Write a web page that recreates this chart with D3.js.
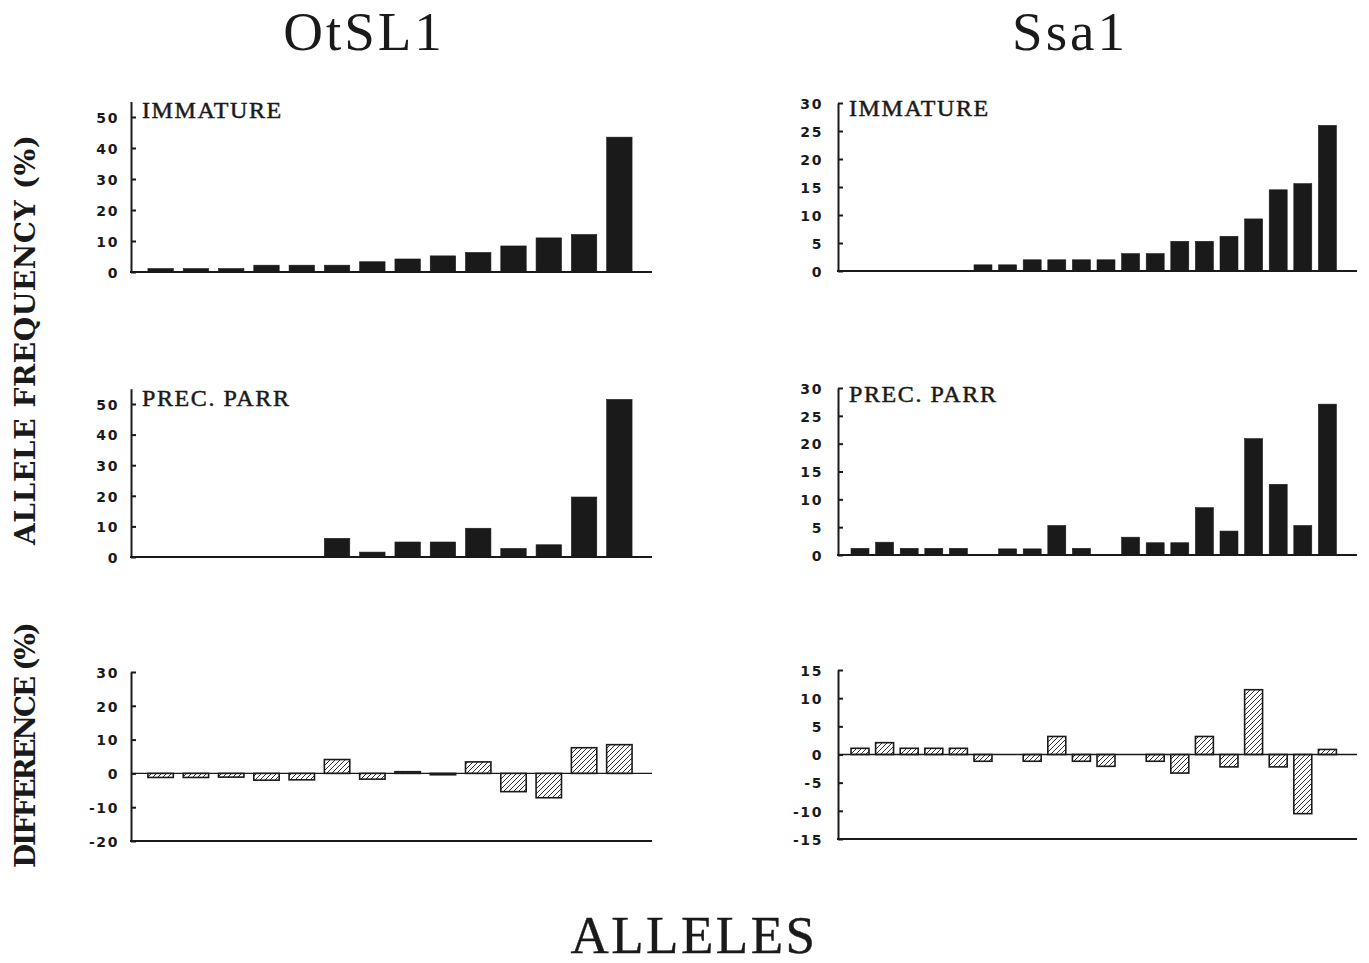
<!DOCTYPE html>
<html lang="en">
<head>
<meta charset="utf-8">
<title>Allele frequencies</title>
<script src="https://cdn.jsdelivr.net/npm/d3@7"></script>
<style>
  body { margin: 0; background: #fff; }
  .serif { font-family: "Liberation Serif", "Times New Roman", serif; fill: #1a1a1a; }
</style>
</head>
<body>
<div id="chart"></div>
<script>
// alleles (x categories) of each locus
var otAlleles = [1, 2, 3, 4, 5, 6, 7, 8, 9, 10, 11, 12, 13, 14];
var ssaAlleles = [1, 2, 3, 4, 5, 6, 7, 8, 9, 10, 11, 12, 13, 14, 15, 16, 17, 18, 19, 20];

// OtSL1 frequencies (%)
var otImmature = [1.1, 1.1, 1.1, 2.2, 2.2, 2.2, 3.3, 4.2, 5.2, 6.3, 8.4, 11, 12.1, 43.5];
var otPrecParr = [0, 0, 0, 0, 0, 6.1, 1.6, 4.9, 4.9, 9.4, 2.8, 4, 19.6, 51.5];
var otDiff = [-1.2, -1.2, -1.1, -2, -1.9, 4.1, -1.7, 0.5, -0.4, 3.4, -5.4, -7.2, 7.6, 8.5];

// Ssa1 frequencies (%)
var ssaImmature = [0, 0, 0, 0, 0, 1.1, 1.1, 2, 2, 2, 2, 3.1, 3.1, 5.3, 5.3, 6.2, 9.3, 14.5, 15.6, 26];
var ssaPrecParr = [1.2, 2.3, 1.2, 1.2, 1.2, 0, 1.1, 1.1, 5.3, 1.2, 0, 3.2, 2.2, 2.2, 8.5, 4.3, 20.9, 12.7, 5.3, 27.1];
var ssaDiff = [1.1, 2.1, 1.1, 1.1, 1.1, -1.2, 0, -1.2, 3.2, -1.2, -2.1, 0, -1.2, -3.3, 3.2, -2.2, 11.5, -2.2, -10.5, 0.9];

// tick labels
var otFreqTicks = [0, 10, 20, 30, 40, 50];
var otDiffTicks = [-20, -10, 0, 10, 20, 30];
var ssaFreqTicks = [0, 5, 10, 15, 20, 25, 30];
var ssaDiffTicks = [-15, -10, -5, 0, 5, 10, 15];

var ink = "#1a1a1a";

var svg = d3.select("#chart").append("svg")
    .attr("width", 1369)
    .attr("height", 963);

// hatch fill for the difference bars
svg.append("defs").append("pattern")
    .attr("id", "hatch")
    .attr("patternUnits", "userSpaceOnUse")
    .attr("width", 5)
    .attr("height", 5)
    .append("path")
    .attr("d", "M-1,1 l2,-2 M0,5 l5,-5 M4,6 l2,-2")
    .attr("stroke", ink)
    .attr("stroke-width", 0.9);

var xOt = d3.scaleBand().domain(otAlleles).range([143, 637]).paddingInner(0.28).paddingOuter(0.14);
var xSsa = d3.scaleBand().domain(ssaAlleles).range([847.7, 1339.7]).paddingInner(0.27).paddingOuter(0.135);

function panel(o) {
    var g = svg.append("g");
    var y = d3.scaleLinear().domain(o.domain).range(o.range);
    var x0 = o.axisX, x1 = o.rightX;

    // bars (zero values draw nothing)
    o.values.forEach(function (v, i) {
        if (v === 0) return;
        g.append("rect")
            .attr("x", o.x(o.cats[i]))
            .attr("width", o.x.bandwidth())
            .attr("y", y(Math.max(v, 0)))
            .attr("height", Math.abs(y(v) - y(0)))
            .attr("fill", o.hatch ? "url(#hatch)" : ink)
            .attr("stroke", ink)
            .attr("stroke-width", o.hatch ? 1.6 : 0.6);
    });

    // axis, ticks point inward
    var ax = g.append("g")
        .attr("transform", "translate(" + x0 + ",0)")
        .call(d3.axisLeft(y).tickValues(o.ticks).tickSize(-5).tickSizeOuter(0)
            .tickPadding(o.pad).tickFormat(function (d) { return String(d); }));
    ax.select(".domain").attr("stroke", ink).attr("stroke-width", 2);
    ax.selectAll(".tick line").attr("stroke", ink).attr("stroke-width", 2);
    ax.selectAll(".tick text")
        .attr("dy", "0.38em")
        .style("font-family", "DejaVu Sans, sans-serif")
        .style("font-weight", "bold")
        .style("font-size", "14px")
        .style("letter-spacing", "1.6px")
        .style("fill", ink);

    // baseline
    if (o.hatch) {
        g.append("line").attr("x1", x0).attr("x2", x1)
            .attr("y1", y(0)).attr("y2", y(0))
            .attr("stroke", ink).attr("stroke-width", 1.4);
        g.append("line").attr("x1", x0 - 1).attr("x2", x1)
            .attr("y1", y(o.domain[0])).attr("y2", y(o.domain[0]))
            .attr("stroke", ink).attr("stroke-width", 2);
    } else {
        g.append("line").attr("x1", x0 - 1).attr("x2", x1)
            .attr("y1", y(0)).attr("y2", y(0))
            .attr("stroke", ink).attr("stroke-width", 2);
    }

    if (o.label) {
        g.append("text").attr("class", "serif")
            .attr("x", x0 + 11).attr("y", o.labelY)
            .attr("font-size", 24)
            .attr("letter-spacing", 1.6)
            .attr("stroke", ink).attr("stroke-width", 0.5)
            .text(o.label);
    }
}

// OtSL1 column
panel({x: xOt, cats: otAlleles, values: otImmature, domain: [0, 55], range: [272, 101.5],
    ticks: otFreqTicks, axisX: 131, rightX: 652, pad: 12, label: "IMMATURE", labelY: 118});
panel({x: xOt, cats: otAlleles, values: otPrecParr, domain: [0, 55], range: [557, 388.7],
    ticks: otFreqTicks, axisX: 131, rightX: 652, pad: 12, label: "PREC. PARR", labelY: 406});
panel({x: xOt, cats: otAlleles, values: otDiff, domain: [-20, 30], range: [841, 672],
    ticks: otDiffTicks, axisX: 131, rightX: 652, pad: 12, hatch: true});

// Ssa1 column
panel({x: xSsa, cats: ssaAlleles, values: ssaImmature, domain: [0, 30], range: [271, 103],
    ticks: ssaFreqTicks, axisX: 838, rightX: 1357, pad: 15, label: "IMMATURE", labelY: 116});
panel({x: xSsa, cats: ssaAlleles, values: ssaPrecParr, domain: [0, 30], range: [555, 388],
    ticks: ssaFreqTicks, axisX: 838, rightX: 1357, pad: 15, label: "PREC. PARR", labelY: 402});
panel({x: xSsa, cats: ssaAlleles, values: ssaDiff, domain: [-15, 15], range: [839, 670],
    ticks: ssaDiffTicks, axisX: 838, rightX: 1357, pad: 15, hatch: true});

// titles
svg.append("text").attr("class", "serif")
    .attr("x", 364).attr("y", 50).attr("text-anchor", "middle")
    .attr("font-size", 55).attr("letter-spacing", 3)
    .text("OtSL1");
svg.append("text").attr("class", "serif")
    .attr("x", 1070).attr("y", 50).attr("text-anchor", "middle")
    .attr("font-size", 55).attr("letter-spacing", 3)
    .text("Ssa1");
svg.append("text").attr("class", "serif")
    .attr("x", 694).attr("y", 953).attr("text-anchor", "middle")
    .attr("font-size", 53).attr("letter-spacing", 2.5)
    .attr("stroke", ink).attr("stroke-width", 0.4)
    .text("ALLELES");

// y labels
svg.append("text")
    .attr("transform", "translate(35,340) rotate(-90)")
    .attr("text-anchor", "middle")
    .attr("font-family", "DejaVu Serif, serif")
    .attr("font-weight", "bold")
    .attr("font-size", 28)
    .attr("fill", ink)
    .attr("textLength", 410)
    .attr("lengthAdjust", "spacing")
    .text("ALLELE FREQUENCY (%)");
svg.append("text")
    .attr("transform", "translate(35,745) rotate(-90)")
    .attr("text-anchor", "middle")
    .attr("font-family", "DejaVu Serif, serif")
    .attr("font-weight", "bold")
    .attr("font-size", 28)
    .attr("fill", ink)
    .attr("textLength", 246)
    .attr("lengthAdjust", "spacing")
    .text("DIFFERENCE (%)");
</script>
</body>
</html>
